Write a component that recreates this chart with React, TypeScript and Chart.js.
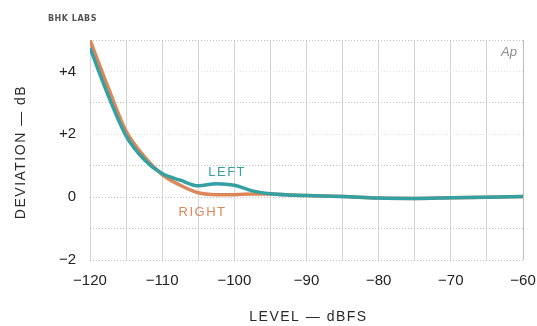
import React, { useEffect, useRef } from "react";
import { Chart, registerables } from "chart.js";

Chart.register(...registerables);

const levels = [-120, -117.5, -115, -112.5, -110, -107.5, -105, -102.5, -100, -97.5, -95, -92.5, -90, -85, -80, -75, -70, -65, -60];
const leftValues = [4.75, 3.25, 1.95, 1.2, 0.75, 0.54, 0.36, 0.43, 0.38, 0.2, 0.11, 0.07, 0.05, 0.02, -0.03, -0.04, -0.02, 0.0, 0.02];
const rightValues = [5.0, 3.5, 2.1, 1.3, 0.72, 0.38, 0.14, 0.08, 0.08, 0.1, 0.1, 0.07, 0.05, 0.02, -0.03, -0.04, -0.02, 0.0, 0.02];
const seriesNames = ["LEFT", "RIGHT"];
const xTickLabels: Record<number, string> = { [-120]: "−120", [-110]: "−110", [-100]: "−100", [-90]: "−90", [-80]: "−80", [-70]: "−70", [-60]: "−60" };
const yTickLabels: Record<number, string> = { [4]: "+4", [2]: "+2", [0]: "0", [-2]: "−2" };
const xTitle = "LEVEL — dBFS";
const yTitle = "DEVIATION — dB";
const brand = "BHK LABS";
const logo = "Ap";

const LEFT_COLOR = "#35a0a2";
const RIGHT_COLOR = "#dc8758";

const textPlugin = {
  id: "extraText",
  afterDatasetsDraw(chart: any) {
    const ctx = chart.ctx as CanvasRenderingContext2D;
    const { chartArea } = chart;
    const xs = chart.scales.x;
    const ys = chart.scales.y;
    ctx.save();
    // right border
    ctx.strokeStyle = "#bdbdbd";
    ctx.lineWidth = 1;
    ctx.beginPath();
    ctx.moveTo(chartArea.right + 0.5, chartArea.top);
    ctx.lineTo(chartArea.right + 0.5, chartArea.bottom);
    ctx.stroke();
    // axis titles
    ctx.fillStyle = "#2a2a2a";
    ctx.font = "14px 'Liberation Sans', Arial, sans-serif";
    (ctx as any).letterSpacing = "1.5px";
    ctx.textAlign = "center";
    ctx.textBaseline = "middle";
    ctx.fillText(xTitle, (chartArea.left + chartArea.right) / 2 + 2, 317);
    ctx.save();
    ctx.translate(21, (chartArea.top + chartArea.bottom) / 2 + 2);
    ctx.rotate(-Math.PI / 2);
    ctx.fillText(yTitle, 0, 0);
    ctx.restore();
    // brand
    ctx.font = "bold 8px 'DejaVu Sans', sans-serif";
    (ctx as any).letterSpacing = "0.5px";
    ctx.fillStyle = "#555";
    ctx.textAlign = "left";
    ctx.fillText(brand, 48, 19);
    // logo
    ctx.font = "italic 13px 'Liberation Sans', Arial, sans-serif";
    (ctx as any).letterSpacing = "0px";
    ctx.fillStyle = "#8a8a8a";
    ctx.textAlign = "right";
    ctx.fillText(logo, chartArea.right - 6, chartArea.top + 12);
    // series labels
    ctx.font = "13px 'Liberation Sans', Arial, sans-serif";
    (ctx as any).letterSpacing = "1.5px";
    ctx.textAlign = "center";
    ctx.fillStyle = LEFT_COLOR;
    ctx.fillText(seriesNames[0], xs.getPixelForValue(-101), ys.getPixelForValue(0.8));
    ctx.fillStyle = RIGHT_COLOR;
    ctx.fillText(seriesNames[1], xs.getPixelForValue(-104.4), ys.getPixelForValue(-0.48));
    ctx.restore();
  },
};

export default function App() {
  const ref = useRef<HTMLCanvasElement | null>(null);
  useEffect(() => {
    if (!ref.current) return;
    const chart = new Chart(ref.current, {
      type: "line",
      data: {
        datasets: [
          {
            label: seriesNames[0],
            data: levels.map((x, i) => ({ x, y: leftValues[i] })),
            borderColor: LEFT_COLOR,
            borderWidth: 3.5,
            pointRadius: 0,
            cubicInterpolationMode: "monotone",
            order: 0,
          },
          {
            label: seriesNames[1],
            data: levels.map((x, i) => ({ x, y: rightValues[i] })),
            borderColor: RIGHT_COLOR,
            borderWidth: 3.5,
            pointRadius: 0,
            cubicInterpolationMode: "monotone",
            order: 1,
          },
        ],
      },
      options: {
        animation: false,
        responsive: false,
        devicePixelRatio: 1,
        layout: { padding: { top: 40, right: 14, left: 0, bottom: 0 } },
        plugins: { legend: { display: false }, tooltip: { enabled: false } },
        scales: {
          x: {
            type: "linear",
            min: -120,
            max: -60,
            afterFit: (s: any) => { s.height = 66; s.paddingLeft = 0; s.paddingRight = 0; },
            ticks: {
              stepSize: 5,
              autoSkip: false,
              maxRotation: 0,
              padding: 12,
              color: "#222",
              font: { size: 15, family: "'Liberation Sans', Arial, sans-serif" },
              callback: (v: any) => xTickLabels[v] ?? "",
            },
            grid: { color: "#d4d4d4", lineWidth: 1, drawTicks: false },
            border: { display: false },
          },
          y: {
            type: "linear",
            min: -2,
            max: 5,
            afterFit: (s: any) => { s.width = 90; s.paddingTop = 0; s.paddingBottom = 0; },
            ticks: {
              stepSize: 1,
              autoSkip: false,
              padding: 14,
              color: "#222",
              font: { size: 15, family: "'Liberation Sans', Arial, sans-serif" },
              callback: (v: any) => yTickLabels[v] ?? "",
            },
            grid: {
              color: (c: any) => (Math.abs(c.tick.value) % 2 === 1 || c.tick.value === 0 || c.tick.value === -2 ? "#bdbdbd" : "#dedede"),
              lineWidth: 1,
              drawTicks: false,
            },
            border: { display: false, dash: [1, 2] },
          },
        },
      },
      plugins: [textPlugin],
    } as any);
    return () => chart.destroy();
  }, []);
  return (
    <div style={{ position: "fixed", left: 0, top: 0, width: 537, height: 326, background: "#fff" }}>
      <canvas ref={ref} width={537} height={326} />
    </div>
  );
}
